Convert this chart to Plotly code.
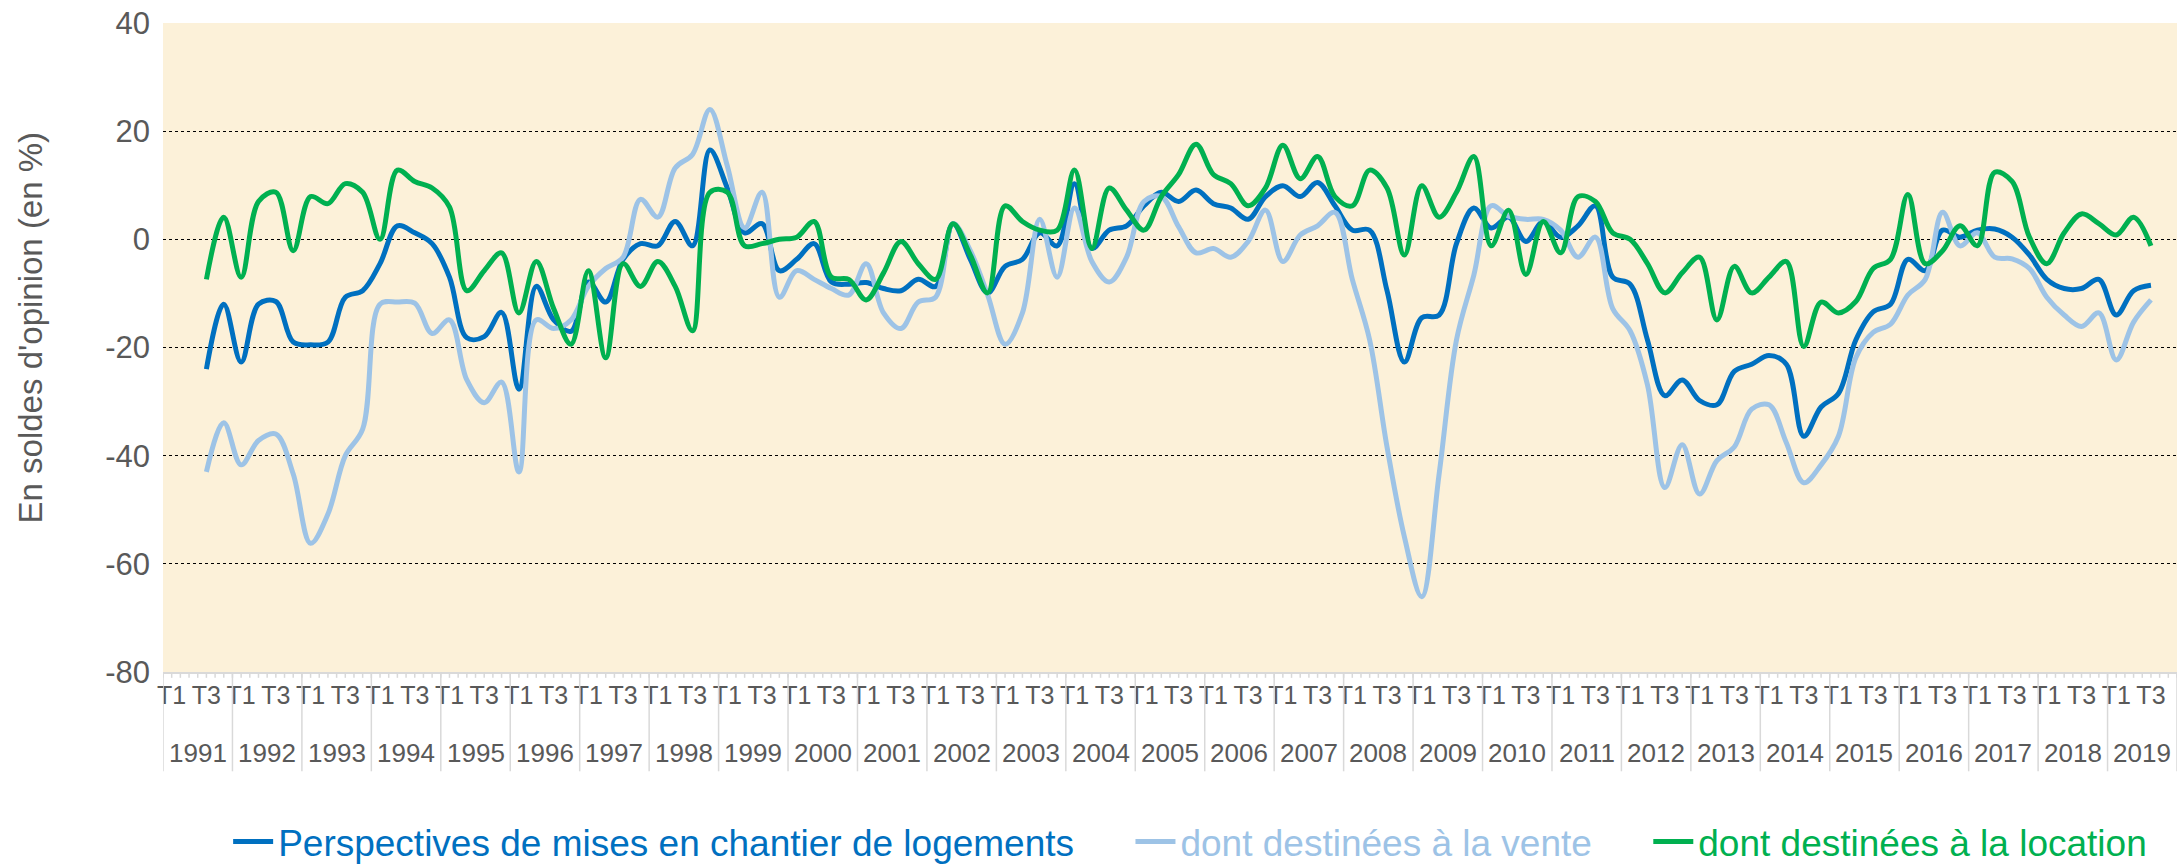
import plotly.graph_objects as go

years = list(range(1991, 2020))
quarters = ["T1", "T2", "T3", "T4"]
categories = [f"{y} {q}" for y in years for q in quarters]

# Perspectives de mises en chantier de logements (solde d'opinion, %)
ensemble = [
    None, None, -24, -12,
    -22.7, -12, -11.5, -19,
    -19.5, -19, -10.7, -9.5,
    -4.5, 2.5, 1.2, -0.8,
    -7, -18.2, -18, -13.5,
    -27.7, -8.7, -14.9, -17,
    -7.9, -11.6, -3.7, -0.8,
    -1.2, 3.3, -1.2, 16.5,
    9.5, 1.2, 2.9, -5.8,
    -3.7, -0.8, -7.9, -8.3,
    -8, -9.1, -9.5, -7.4,
    -8.7, 2.9, -3.7, -9.9,
    -5, -3.7, 1.2, -1.2,
    10.3, -1.7, 1.7, 2.5,
    6.2, 8.7, 7, 9.1,
    6.6, 5.8, 3.7, 7.9,
    9.9, 7.9, 10.5, 6.2,
    1.7, 1.7, -9.5, -22.7,
    -14.5, -14, -0.8, 5.8,
    2.1, 4.1, -0.4, 3.3,
    0.4, 2.5, 6.2, -7,
    -8.3, -18.6, -28.9, -26,
    -29.8, -30.6, -24.4, -23.1,
    -21.5, -23.1, -36.4, -31,
    -28.5, -18.6, -13.4, -12,
    -3.7, -5.8, 1.7, 0.4,
    1.7, 1.9, 0.4, -2.9,
    -7.4, -9.1, -9.1, -7.4,
    -14, -9.5, -8.5, None,
]

# dont destinées à la vente
vente = [
    None, None, -43, -33.9,
    -41.7, -37.2, -36, -43.4,
    -56.2, -50.8, -40, -35.1,
    -12, -11.6, -11.8, -17.4,
    -14.9, -26, -30.2, -26.4,
    -43, -14.9, -16.5, -14.9,
    -8.7, -5.4, -3.3, 7.4,
    4.1, 13.2, 15.7, 24,
    13.6, 2.1, 8.7, -10.7,
    -5.8, -7.4, -9.1, -10.3,
    -4.5, -13.6, -16.5, -11.6,
    -10.7, 2.9, -2.1, -10.3,
    -19.4, -13.6, 3.7, -7,
    5.8, -4.1, -7.9, -3.3,
    7, 7.9, 2.3, -2.5,
    -1.7, -3.3, -0.4, 5.4,
    -4.1, 0.8, 2.5, 5,
    -7.4, -18.6, -38.4, -55,
    -66.1, -43.4, -18.6, -6.6,
    6.2, 4.3, 3.7, 3.7,
    1.7, -3.3, 0.4, -12.8,
    -16.9, -26.9, -45.9, -38,
    -47.1, -40.9, -38.4, -31.4,
    -30.6, -37.6, -45, -41.7,
    -36.4, -21.9, -17.2, -15.7,
    -10.3, -7.4, 5, -1.2,
    1.2, -3.3, -3.6, -5.4,
    -10.7, -14, -16.1, -13.6,
    -22.3, -15.3, -11.2, None,
]

# dont destinées à la location
location = [
    None, None, -7.4, 4.1,
    -7, 7, 8.7, -2.1,
    7.9, 6.6, 10.3, 8.7,
    0, 12.8, 10.7, 9.5,
    6, -9.5, -5.8, -2.5,
    -13.6, -4.1, -12.8, -19.4,
    -5.8, -21.9, -4.5, -8.7,
    -4.1, -8.7, -16.9, 8.7,
    8.7, -1.2, -0.8, 0,
    0.4, 3.3, -7, -7.4,
    -11.2, -6.2, -0.4, -4.5,
    -7.4, 2.9, -2.9, -9.9,
    6.2, 3.3, 1.7, 1.7,
    12.8, -1.7, 9.5, 5.4,
    1.7, 7.9, 12, 17.6,
    12, 10.3, 6.2, 9.5,
    17.4, 11.2, 15.3, 7.9,
    6.2, 12.8, 9.5, -2.9,
    9.9, 4.1, 8.7, 15.3,
    -1.2, 5.4, -6.5, 3.3,
    -2.5, 7.9, 7, 1.2,
    0, -4.5, -9.9, -6.2,
    -3.3, -14.9, -5, -9.9,
    -7, -4.1, -19.8, -11.6,
    -13.6, -11.5, -5.4, -3.7,
    8.3, -4.5, -2.1, 2.5,
    -1.2, 12.4, 10.7, 0.4,
    -4.5, 1.2, 4.7, 2.9,
    0.8, 4.1, -1.2, None,
]

y_ticks = [40, 20, 0, -20, -40, -60, -80]
y_tick_text = ["40", "20", "0", "-20", "-40", "-60", "-80"]

series_names = [
    "Perspectives de mises en chantier de logements",
    "dont destinées à la vente",
    "dont destinées à la location",
]
series_colors = ["#0070C0", "#9DC3E6", "#00B050"]
series_values = [ensemble, vente, location]
name_pad = ["\u00a0" * 5, "\u00a0" * 5, ""]

fig = go.Figure()
for name, color, vals, pad in zip(series_names, series_colors, series_values, name_pad):
    fig.add_trace(go.Scatter(
        x=categories, y=vals, mode="lines", connectgaps=False,
        name=f"<span style='color:{color}'>{name}</span>{pad}",
        line=dict(color=color, width=5, shape="spline", smoothing=1.0),
        hoverinfo="skip",
    ))

tick_cats = [c for c in categories if c.endswith("T1") or c.endswith("T3")]
tick_text = [c.split(" ")[1] for c in tick_cats]

axis_grey = "#D9D9D9"
text_grey = "#595959"

shapes = []
n = len(categories)
# year separators extending under the labels
for i in range(len(years) + 1):
    shapes.append(dict(type="line", xref="x", yref="paper",
                       x0=4 * i - 0.5, x1=4 * i - 0.5, y0=0, y1=-0.153,
                       line=dict(color=axis_grey, width=1.5)))
# small ticks along the category axis
for k in range(2 * n + 1):
    xv = -0.5 + 0.5 * k
    shapes.append(dict(type="line", xref="x", yref="paper",
                       x0=xv, x1=xv, y0=0, y1=-0.009,
                       line=dict(color=axis_grey, width=1.5)))

annotations = []
for i, y in enumerate(years):
    annotations.append(dict(x=4 * i + 1.5, xref="x", y=-0.125, yref="paper",
                            text=str(y), showarrow=False,
                            font=dict(size=26, color=text_grey),
                            xanchor="center", yanchor="middle"))
annotations.append(dict(x=-0.066, xref="paper", y=0.531, yref="paper",
                        text="En soldes d'opinion (en %)", textangle=-90,
                        showarrow=False, font=dict(size=33, color=text_grey),
                        xanchor="center", yanchor="middle"))

fig.update_layout(
    width=2182, height=867,
    margin=dict(l=163, r=5, t=23, b=195, autoexpand=False),
    paper_bgcolor="white",
    plot_bgcolor="#FCF1D9",
    font=dict(family="Liberation Sans, Arial, sans-serif", color=text_grey),
    showlegend=True,
    legend=dict(orientation="h", x=0.51, xanchor="center", y=-0.262,
                yanchor="middle", font=dict(size=37), bgcolor="rgba(0,0,0,0)",
                itemwidth=40, tracegroupgap=0),
    shapes=shapes,
    annotations=annotations,
    xaxis=dict(type="category", categoryorder="array", categoryarray=categories,
               range=[-0.5, n - 0.5], tickmode="array", tickvals=tick_cats,
               ticktext=tick_text, tickfont=dict(size=25, color=text_grey),
               showgrid=False, zeroline=False, showline=True, automargin=False,
               linecolor=axis_grey, linewidth=1.5, ticks="", tickangle=0),
    yaxis=dict(range=[-80, 40], tickmode="array", tickvals=y_ticks,
               ticktext=y_tick_text, showgrid=True, automargin=False,
               gridcolor="black", griddash="dot", gridwidth=1.3,
               zeroline=False, showline=False, ticks="",
               tickfont=dict(size=31, color=text_grey), ticklabelstandoff=12),
)

fig.write_html("out.html",
               config={"displayModeBar": False, "staticPlot": True},
               post_script="document.body.style.margin='0px';"
                           "document.body.style.overflow='hidden';")
